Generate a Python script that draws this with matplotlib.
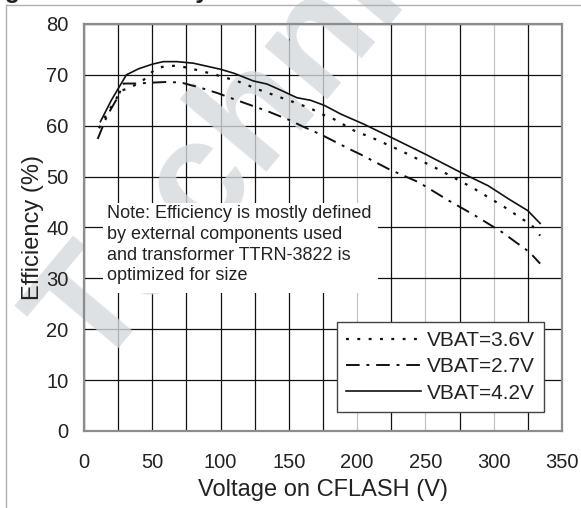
import matplotlib
matplotlib.use('Agg')
import matplotlib.pyplot as plt
from matplotlib.lines import Line2D
from matplotlib.patches import Rectangle

plt.rcParams['font.family'] = ['Liberation Sans', 'DejaVu Sans']

# ---- data ----
v36_x = [11, 17, 23, 27, 32, 42, 52, 59, 68, 76, 94, 112, 129, 154, 166, 174,
         183, 200, 208, 232, 259, 284, 308, 328, 334]
v36_y = [59.5, 62.5, 65.0, 66.9, 67.3, 68.6, 71.1, 71.7, 71.8, 71.4, 70.2, 68.8,
         67.0, 64.6, 63.4, 62.3, 61.3, 58.7, 58.0, 55.1, 51.5, 47.9, 44.0, 40.4, 38.4]

v27_x = [10, 17, 24.5, 29, 39, 51.5, 60, 71, 85, 98, 110, 134, 151.5, 159, 174,
         196, 203, 223, 245, 267, 286, 306, 326, 334]
v27_y = [57.4, 62.0, 65.5, 68.3, 68.3, 68.5, 68.6, 68.5, 67.5, 66.4, 65.2, 62.9,
         61.0, 60.0, 58.2, 55.2, 54.3, 51.5, 48.9, 45.3, 42.4, 39.1, 35.2, 32.9]

v42_x = [12, 20, 31, 40, 50, 58, 68, 80, 100, 110, 124, 134, 144, 156, 166, 176,
         188, 205, 225, 250, 276, 296, 311, 325, 334]
v42_y = [60.8, 65.0, 70.0, 71.2, 72.1, 72.6, 72.6, 72.3, 71.1, 70.3, 68.8, 68.2,
         67.0, 65.5, 65.0, 64.0, 62.3, 60.3, 57.7, 54.4, 50.8, 48.2, 45.6, 43.3, 40.8]

series_labels = ['VBAT=3.6V', 'VBAT=2.7V', 'VBAT=4.2V']
x_ticks = [0, 50, 100, 150, 200, 250, 300, 350]
x_minor = [25, 75, 125, 175, 225, 275, 325]
y_ticks = [0, 10, 20, 30, 40, 50, 60, 70, 80]
note = ("Note: Efficiency is mostly defined\n"
        "by external components used\n"
        "and transformer TTRN-3822 is\n"
        "optimized for size")

TXT = '#222222'

fig = plt.figure(figsize=(5.81, 5.08), dpi=100)
pos = [84 / 581, 77 / 508, 478 / 581, 407 / 508]

# background axes with grid only
axg = fig.add_axes(pos, zorder=0)
axg.set_xlim(0, 350)
axg.set_ylim(0, 80)
axg.set_xticks(x_ticks)
axg.set_xticks(x_minor, minor=True)
axg.set_yticks(y_ticks)
axg.tick_params(which='both', length=0, labelbottom=False, labelleft=False)
axg.grid(True, which='both', axis='x', color='#111111', lw=0.9)
axg.grid(True, which='major', axis='y', color='#111111', lw=0.9)
for v, gl in zip(x_ticks, axg.xaxis.get_gridlines()):
    if v in (200, 250, 300):
        gl.set_color('#c4c4c4')
for s in axg.spines.values():
    s.set_visible(False)

# watermark
fig.text(95 / 581, 1 - 375 / 508, 'Technical', fontsize=112, fontweight='bold',
         color='#d6dade', alpha=0.8, rotation=50, rotation_mode='anchor',
         ha='left', va='baseline', zorder=0.5)

# main axes
ax = fig.add_axes(pos, zorder=1)
ax.set_facecolor('none')
ax.set_xlim(0, 350)
ax.set_ylim(0, 80)
ax.set_xticks(x_ticks)
ax.set_yticks(y_ticks)
ax.tick_params(axis='x', length=0, pad=16, labelsize=14.5, labelcolor=TXT)
ax.tick_params(axis='y', length=0, pad=11, labelsize=14.5, labelcolor=TXT)
for s in ax.spines.values():
    s.set_color('#8c8c8c')
    s.set_linewidth(1.6)

ax.add_patch(Rectangle((0.040, 0.339), 0.575, 0.221, transform=ax.transAxes,
                       facecolor='white', edgecolor='none', zorder=1.8))
ax.text(0.048, 0.556, note, transform=ax.transAxes, ha='left', va='top',
        fontsize=13, color=TXT, linespacing=1.3, zorder=3)

l1, = ax.plot(v36_x, v36_y, color='#111111', lw=1.6, linestyle=(0, (1.3, 3.8)),
              label=series_labels[0], zorder=2.2)
l2, = ax.plot(v27_x, v27_y, color='#111111', lw=1.4, linestyle=(0, (7, 3.5, 1.5, 3.5)),
              label=series_labels[1], zorder=2.1)
l3, = ax.plot(v42_x, v42_y, color='#111111', lw=1.2, linestyle='-',
              label=series_labels[2], zorder=2.3)

leg = ax.legend(handles=[l1, l2, l3], loc='lower right',
                bbox_to_anchor=(0.962, 0.0467), borderaxespad=0,
                fontsize=15, handlelength=3.6, handletextpad=0.25,
                labelspacing=0.35, borderpad=0.45, fancybox=False,
                framealpha=1, edgecolor='#444444')
leg.get_frame().set_linewidth(1.0)
for t in leg.get_texts():
    t.set_color(TXT)

ax.set_xlabel('Voltage on CFLASH (V)', fontsize=17, color=TXT, labelpad=5)
ax.set_ylabel('Efficiency (%)', fontsize=17, color=TXT, labelpad=2)

# figure frame lines and clipped caption
fig.add_artist(Line2D([6 / 581, 1], [1 - 5 / 508, 1 - 5 / 508],
                      transform=fig.transFigure, color='#b0b0b0', lw=1))
fig.add_artist(Line2D([6 / 581, 6 / 581], [0, 1 - 5 / 508],
                      transform=fig.transFigure, color='#b0b0b0', lw=1))
fig.text(-17 / 581, 1 + 2 / 508, 'Figure 4. Efficiency', fontsize=17.7,
         fontweight='bold', color=TXT, ha='left', va='baseline')

fig.savefig('out.png', dpi=100)
